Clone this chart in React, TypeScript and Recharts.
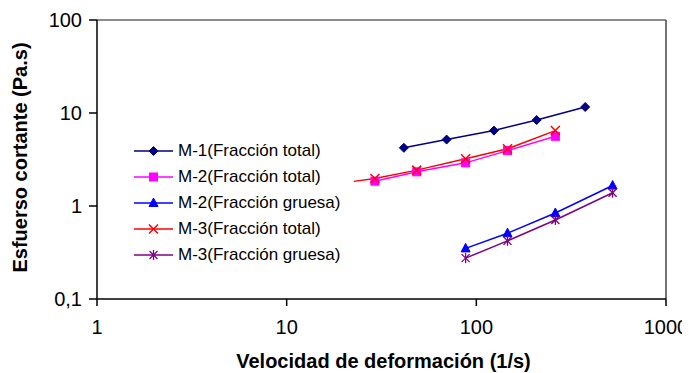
import React from "react";
import { LineChart, Line, XAxis, YAxis, Legend, ReferenceLine } from "recharts";

const M1_X = [41.5, 69.7, 123.8, 208, 375];
const M1_Y = [4.22, 5.18, 6.47, 8.41, 11.6];
const M2T_X = [29.2, 48.5, 87.8, 146, 261];
const M2T_Y = [1.85, 2.33, 2.91, 3.94, 5.62];
const M2G_X = [87.8, 146, 261, 523];
const M2G_Y = [0.35, 0.51, 0.84, 1.66];
const M3T_X = [22.6, 29.2, 48.5, 87.8, 146, 261];
const M3T_Y = [1.84, 1.98, 2.43, 3.22, 4.12, 6.47];
const M3T_MARK = [false, true, true, true, true, true];
const M3G_X = [87.8, 146, 261, 523];
const M3G_Y = [0.275, 0.422, 0.708, 1.39];

const X_TICKS = [1, 10, 100, 1000];
const Y_TICKS = [0.1, 1, 10, 100];
const NAMES = [
  "M-1(Fracción total)",
  "M-2(Fracción total)",
  "M-2(Fracción gruesa)",
  "M-3(Fracción total)",
  "M-3(Fracción gruesa)",
];

const zip = (xs: number[], ys: number[], marks?: boolean[]) =>
  xs.map((x, i) => ({ x, y: ys[i], mark: marks ? marks[i] : true }));

const FONT = "'Liberation Sans', Arial, sans-serif";

type Shape = "diamond" | "square" | "triangle" | "x" | "star";

const Marker = ({ shape, cx, cy, color }: { shape: Shape; cx: number; cy: number; color: string }) => {
  switch (shape) {
    case "diamond":
      return <polygon points={`${cx},${cy - 4.5} ${cx + 4.5},${cy} ${cx},${cy + 4.5} ${cx - 4.5},${cy}`} fill={color} stroke={color} />;
    case "square":
      return <rect x={cx - 4} y={cy - 4} width={8} height={8} fill={color} stroke={color} />;
    case "triangle":
      return <polygon points={`${cx},${cy - 5} ${cx + 4.5},${cy + 3.5} ${cx - 4.5},${cy + 3.5}`} fill={color} stroke={color} />;
    case "x":
      return (
        <g stroke={color} strokeWidth={1.5}>
          <line x1={cx - 4.5} y1={cy - 4.5} x2={cx + 4.5} y2={cy + 4.5} />
          <line x1={cx - 4.5} y1={cy + 4.5} x2={cx + 4.5} y2={cy - 4.5} />
        </g>
      );
    case "star":
      return (
        <g stroke={color} strokeWidth={1.3}>
          <line x1={cx - 4} y1={cy - 4} x2={cx + 4} y2={cy + 4} />
          <line x1={cx - 4} y1={cy + 4} x2={cx + 4} y2={cy - 4} />
          <line x1={cx} y1={cy - 5} x2={cx} y2={cy + 5} />
        </g>
      );
  }
  return null;
};

const SERIES = [
  { name: NAMES[0], data: zip(M1_X, M1_Y), color: "#000080", shape: "diamond" as Shape },
  { name: NAMES[1], data: zip(M2T_X, M2T_Y), color: "#FF00FF", shape: "square" as Shape },
  { name: NAMES[2], data: zip(M2G_X, M2G_Y), color: "#0000FF", shape: "triangle" as Shape },
  { name: NAMES[3], data: zip(M3T_X, M3T_Y, M3T_MARK), color: "#FF0000", shape: "x" as Shape },
  { name: NAMES[4], data: zip(M3G_X, M3G_Y), color: "#800080", shape: "star" as Shape },
];

const makeDot = (shape: Shape, color: string) => (props: any) => {
  const { cx, cy, payload, index } = props;
  if (!payload || !payload.mark || cx == null || cy == null) return <g key={`d-${index}`} />;
  return (
    <g key={`d-${index}`}>
      <Marker shape={shape} cx={cx} cy={cy} color={color} />
    </g>
  );
};

const LegendContent = () => (
  <div style={{ fontFamily: FONT, fontSize: 17, color: "#000" }}>
    {SERIES.map((s) => (
      <div key={s.name} style={{ display: "flex", alignItems: "center", height: 26 }}>
        <svg width={40} height={14} style={{ display: "block" }}>
          <line x1={0} y1={7} x2={39} y2={7} stroke={s.color} strokeWidth={1.5} />
          <Marker shape={s.shape} cx={19.5} cy={7} color={s.color} />
        </svg>
        <span style={{ marginLeft: 4, whiteSpace: "nowrap" }}>{s.name}</span>
      </div>
    ))}
  </div>
);

const fmtY = (v: number) => String(v).replace(".", ",");

const YTitle = (props: any) => {
  const vb = props.viewBox || {};
  const x = 20 - 8;
  const y = vb.y + vb.height / 2 - 2;
  return (
    <text
      x={x}
      y={y}
      transform={`rotate(-90, ${x}, ${y})`}
      textAnchor="middle"
      dominantBaseline="central"
      fontFamily={FONT}
      fontWeight="bold"
      fontSize={20}
      fill="#000"
    >
      Esfuerso cortante (Pa.s)
    </text>
  );
};

const XTitle = (props: any) => {
  const vb = props.viewBox || {};
  const x = vb.x + vb.width / 2 + 2;
  return (
    <text x={x} y={368 - 8} textAnchor="middle" fontFamily={FONT} fontWeight="bold" fontSize={20} fill="#000">
      Velocidad de deformación (1/s)
    </text>
  );
};

export default function App() {
  return (
    <LineChart width={682} height={365} margin={{ top: 12, right: 24, bottom: 24, left: 29 }}>
      <XAxis
        dataKey="x"
        type="number"
        scale="log"
        domain={[1, 1000]}
        ticks={X_TICKS}
        allowDataOverflow
        height={50}
        tickSize={7}
        tickMargin={14}
        stroke="#000"
        strokeWidth={1.5}
        tick={{ fill: "#000", fontSize: 20, fontFamily: FONT }}
        label={<XTitle />}
      />
      <YAxis
        dataKey="y"
        type="number"
        scale="log"
        domain={[0.1, 100]}
        ticks={Y_TICKS}
        allowDataOverflow
        width={60}
        tickSize={8}
        tickMargin={7}
        tickFormatter={fmtY}
        stroke="#000"
        strokeWidth={1.5}
        tick={{ fill: "#000", fontSize: 20, fontFamily: FONT }}
        label={<YTitle />}
      />
      <ReferenceLine y={100} stroke="#666" strokeWidth={1.5} />
      <ReferenceLine x={1000} stroke="#444" strokeWidth={1.5} />
      {SERIES.map((s) => (
        <Line
          key={s.name}
          name={s.name}
          data={s.data}
          dataKey="y"
          type="linear"
          stroke={s.color}
          strokeWidth={1.5}
          dot={makeDot(s.shape, s.color)}
          activeDot={false}
          isAnimationActive={false}
          legendType="none"
        />
      ))}
      <Legend
        layout="horizontal"
        verticalAlign="middle"
        align="center"
        content={<LegendContent />}
        wrapperStyle={{ position: "absolute", left: 126, top: 130, width: "auto", height: "auto" }}
      />
    </LineChart>
  );
}
